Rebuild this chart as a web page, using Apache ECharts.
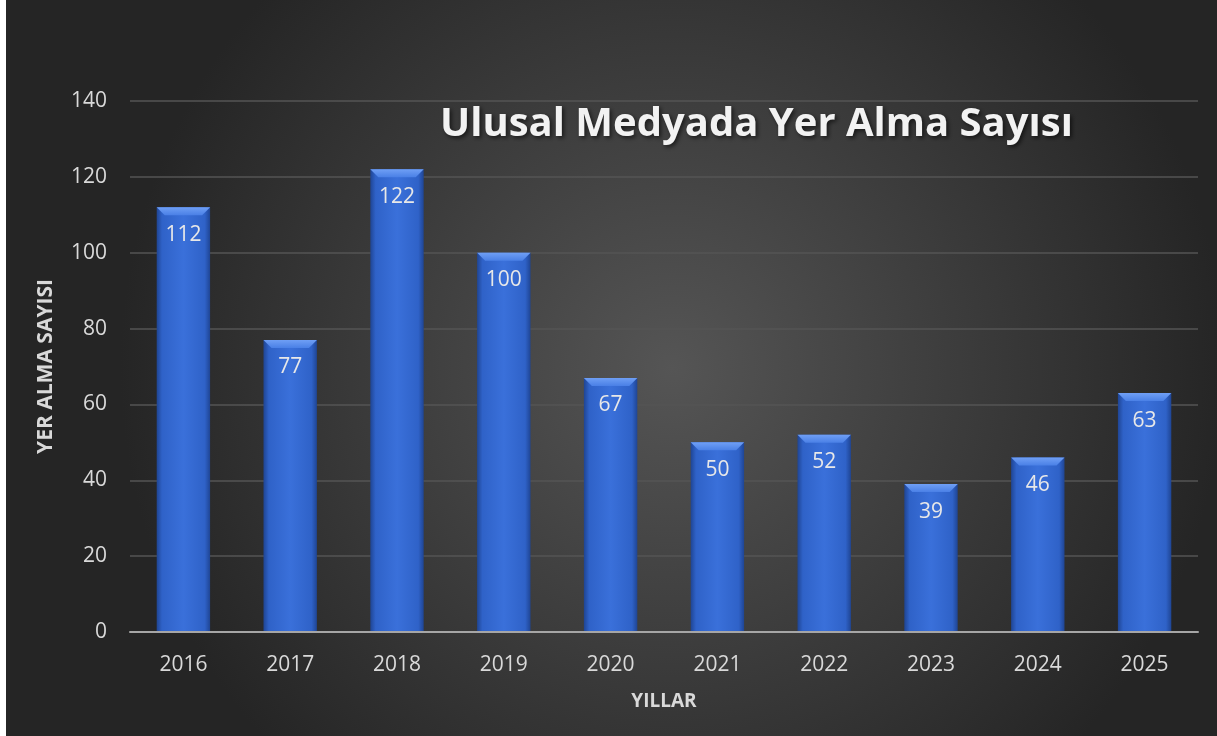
<!DOCTYPE html>
<html>
<head>
<meta charset="utf-8">
<script src="https://cdn.jsdelivr.net/npm/echarts@6/dist/echarts.min.js"></script>
<style>
html,body{margin:0;padding:0;background:#ffffff;}
#c{position:absolute;left:6px;top:0;width:1211px;height:736px;}
</style>
</head>
<body>
<div id="c"></div>
<script>
const categories = ['2016','2017','2018','2019','2020','2021','2022','2023','2024','2025'];
const values = [112, 77, 122, 100, 67, 50, 52, 39, 46, 63];
const yTicks = [0, 20, 40, 60, 80, 100, 120, 140];
const titleText = 'Ulusal Medyada Yer Alma Sayısı';
const yName = 'YER ALMA SAYISI';
const xName = 'YILLAR';

const FONT = '"Open Sans", sans-serif';
const chart = echarts.init(document.getElementById('c'));
const bevel = 8;

chart.setOption({
  backgroundColor: {
    type: 'radial', x: 0.55, y: 0.5, r: 0.75,
    colorStops: [
      {offset: 0, color: '#555555'},
      {offset: 1, color: '#252525'}
    ]
  },
  title: {
    text: titleText,
    left: 429, top: 100,
    textStyle: {
      color: '#f2f2f2', fontFamily: FONT, fontWeight: 'bold', fontSize: 40,
      letterSpacing: 2,
      textShadowColor: 'rgba(0,0,0,0.6)', textShadowBlur: 4, textShadowOffsetX: 2, textShadowOffsetY: 2
    }
  },
  grid: {left: 124, right: 19, top: 101, bottom: 104, containLabel: false},
  xAxis: {
    type: 'category',
    data: categories,
    name: xName,
    nameLocation: 'middle',
    nameGap: 60,
    nameTextStyle: {color: '#d9d9d9', fontFamily: FONT, fontWeight: 'bold', fontSize: 19},
    axisLine: {lineStyle: {color: '#a6a6a6', width: 2}},
    axisTick: {show: false},
    axisLabel: {color: '#d9d9d9', fontFamily: FONT, fontSize: 21, margin: 23},
    z: 5
  },
  yAxis: {
    type: 'value',
    min: yTicks[0], max: yTicks[yTicks.length - 1], interval: 20,
    name: yName,
    nameLocation: 'middle',
    nameGap: 73,
    nameRotate: 90,
    nameTextStyle: {color: '#d9d9d9', fontFamily: FONT, fontWeight: 'bold', fontSize: 21},
    axisLine: {show: false},
    axisTick: {show: false},
    axisLabel: {color: '#d9d9d9', fontFamily: FONT, fontSize: 21, margin: 23},
    splitLine: {lineStyle: {color: '#555555', width: 1.5}}
  },
  series: [
    {
      type: 'bar',
      data: values,
      barWidth: '50%',
      itemStyle: {
        color: {
          type: 'linear', x: 0, y: 0, x2: 1, y2: 0,
          colorStops: [
            {offset: 0, color: '#1f4594'},
            {offset: 0.1, color: '#2f62c8'},
            {offset: 0.5, color: '#3a70da'},
            {offset: 0.9, color: '#2f62c8'},
            {offset: 1, color: '#1f4594'}
          ]
        }
      },
      label: {
        show: true, position: 'insideTop', distance: 17,
        color: '#e8e8e8', fontFamily: FONT, fontSize: 21
      },
      z: 2
    },
    {
      type: 'custom',
      data: values.map((v, i) => [i, v]),
      z: 3,
      silent: true,
      renderItem: function (params, api) {
        const p = api.coord([api.value(0), api.value(1)]);
        const w = api.size([1, 0])[0] * 0.5;
        return {
          type: 'polygon',
          shape: {points: [
            [p[0] - w / 2, p[1]], [p[0] + w / 2, p[1]],
            [p[0] + w / 2 - bevel, p[1] + bevel], [p[0] - w / 2 + bevel, p[1] + bevel]
          ]},
          style: {
            fill: {
              type: 'linear', x: 0, y: 0, x2: 0, y2: 1,
              colorStops: [{offset: 0, color: '#6f9ff5'}, {offset: 1, color: '#4a80e6'}]
            }
          }
        };
      }
    }
  ]
});
</script>
</body>
</html>
